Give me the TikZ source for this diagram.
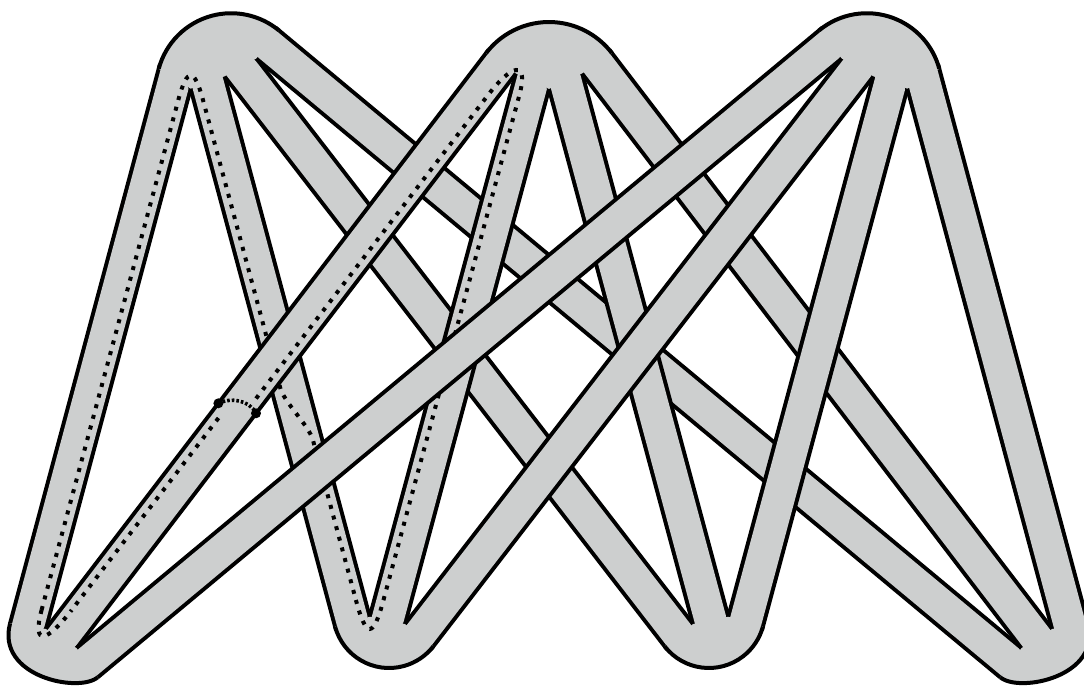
\documentclass[tikz,border=0pt]{standalone}
\usetikzlibrary{calc}
\definecolor{ribbon}{RGB}{205,207,207}
\begin{document}
\begin{tikzpicture}[x=0.5pt, y=-0.5pt,
  bandout/.style={line width=20pt, draw=black},
  bandin/.style={line width=16pt, draw=ribbon},
  hub/.style={fill=ribbon},
  rim/.style={line width=2pt},
  loopdots/.style={line width=2pt, dash pattern=on 2pt off 3.5pt},
  arcdots/.style={line width=1.8pt, dash pattern=on 1.3pt off 1pt},
  pin/.style={fill=black}
]
\useasboundingbox (0,0) rectangle (1084,686);

% band ends: (tij) at top vertex i, (bij) at bottom vertex j
\coordinate (t11) at (177.14,69.62); \coordinate (b11) at (27.48,628);
\coordinate (t12) at (201.8,60.9);   \coordinate (b12) at (353.50,625.76);
\coordinate (t13) at (231.9,56.3);   \coordinate (b13) at (681.30,638.41);
\coordinate (t14) at (264.32,41.71); \coordinate (b14) at (1011.82,663.49);
\coordinate (t21) at (502.85,60.83); \coordinate (b21) at (54.3,647.6);
\coordinate (t22) at (540.6,50.9);   \coordinate (b22) at (381.8,641.2);
\coordinate (t23) at (557.4,50.9);   \coordinate (b23) at (716.2,641.2);
\coordinate (t24) at (595.15,60.83); \coordinate (b24) at (1043.7,647.6);
\coordinate (t31) at (833.68,41.71); \coordinate (b31) at (86.18,663.49);
\coordinate (t32) at (866.1,56.3);   \coordinate (b32) at (416.70,638.41);
\coordinate (t33) at (896.2,60.9);   \coordinate (b33) at (744.50,625.76);
\coordinate (t34) at (920.86,69.62); \coordinate (b34) at (1070.52,628);

% hub rims and tips
\coordinate (T1l) at (158.71,68.82);  \coordinate (T1x) at (190.65,88.67);
\coordinate (T1y) at (224.60,76.30);  \coordinate (T1z) at (256.32,58.46);
\coordinate (T2l) at (486.12,53.08);  \coordinate (T2x) at (515.89,73.41);
\coordinate (T2y) at (549,88.9);      \coordinate (T2z) at (582.11,73.41);
\coordinate (T3l) at (819.14,30.36);  \coordinate (T3x) at (841.68,58.46);
\coordinate (T3y) at (873.40,76.30);  \coordinate (T3z) at (907.35,88.67);
\coordinate (B1l) at (10.09,623.34);  \coordinate (B1r) at (97.69,677.33);
\coordinate (B1x) at (45.85,628.96);  \coordinate (B1y) at (76.53,648.10);
\coordinate (B2l) at (335.08,626.57); \coordinate (B2x) at (369.72,616.77);
\coordinate (B2y) at (405.03,624.09);
\coordinate (B3l) at (664.61,646.24); \coordinate (B3x) at (692.97,624.09);
\coordinate (B3y) at (728.28,616.77);
\coordinate (B4l) at (1000.31,677.33); \coordinate (B4r) at (1087.91,623.34);
\coordinate (B4x) at (1021.47,648.10); \coordinate (B4y) at (1052.15,628.96);

% first top vertex
\foreach \e in {11,12,13,14}{
  \draw[bandout] (t\e) -- (b\e);
  \draw[bandin] (t\e) -- (b\e);
}
\fill[hub] (T1l) arc[start angle=195, end angle=309.51, radius=75] -- (T1z) -- (T1y) -- (T1x) -- cycle;
\draw[rim] (T1l) arc[start angle=195, end angle=309.51, radius=75];
\draw[loopdots] (41.6,610) -- (178.3,100) .. controls (187.1,67.2) and (194.2,67.2) .. (203.0,100)
  -- (280.3,388) .. controls (284.2,402.5) and (309.0,425.5) .. (312.9,440) -- (355.9,600);

% second top vertex
\foreach \e in {21,22,23,24}{
  \draw[bandout] (t\e) -- (b\e);
  \draw[bandin] (t\e) -- (b\e);
}
\fill[hub] (T2l) arc[start angle=217.40, end angle=322.60, radius=79.15] -- (T2z) -- (T2y) -- (T2x) -- cycle;
\draw[rim] (T2l) arc[start angle=217.40, end angle=322.60, radius=79.15];
\draw[loopdots] (383.5,600) -- (519.4,95) .. controls (529.25,58.4) and (511.08,64.89) .. (488.06,95) -- (254.9,400);
\draw[loopdots] (218.5,418) -- (71.7,610);

% third top vertex
\foreach \e in {31,32,33,34}{
  \draw[bandout] (t\e) -- (b\e);
  \draw[bandin] (t\e) -- (b\e);
}
\fill[hub] (T3l) arc[start angle=230.49, end angle=345, radius=75] -- (T3z) -- (T3y) -- (T3x) -- cycle;
\draw[rim] (T3l) arc[start angle=230.49, end angle=345, radius=75];

% bottom vertices
\fill[hub] (B1l) .. controls (-4.15,676.46) and (78.47,693.32) .. (B1r) -- (B1y) -- (B1x) -- cycle;
\draw[rim] (B1l) .. controls (-4.15,676.46) and (78.47,693.32) .. (B1r);
\fill[hub] (B2l) arc[start angle=164.97, end angle=37.67, radius=55.94] -- (B2y) -- (B2x) -- cycle;
\draw[rim] (B2l) arc[start angle=164.97, end angle=37.67, radius=55.94];
\fill[hub] (B3l) arc[start angle=142.33, end angle=15.03, radius=55.94] -- (B3y) -- (B3x) -- cycle;
\draw[rim] (B3l) arc[start angle=142.33, end angle=15.03, radius=55.94];
\fill[hub] (B4l) .. controls (1019.53,693.32) and (1102.15,676.46) .. (B4r) -- (B4y) -- (B4x) -- cycle;
\draw[rim] (B4l) .. controls (1019.53,693.32) and (1102.15,676.46) .. (B4r);

% loop round the bottom tips, and the cut across T2B1
\draw[loopdots] (41.6,610) .. controls (31.4,648.06) and (47.77,641.3) .. (71.7,610);
\draw[loopdots] (355.9,600) .. controls (366.27,638.63) and (373.11,638.63) .. (383.5,600);
\coordinate (cut1) at (218.4,403.3); \coordinate (cut2) at (256.0,413.3);
\draw[arcdots] (cut1) .. controls (230,397.5) and (249,399.5) .. (cut2);
\fill[pin] (cut1) circle[radius=5];
\fill[pin] (cut2) circle[radius=5];
\end{tikzpicture}
\end{document}
